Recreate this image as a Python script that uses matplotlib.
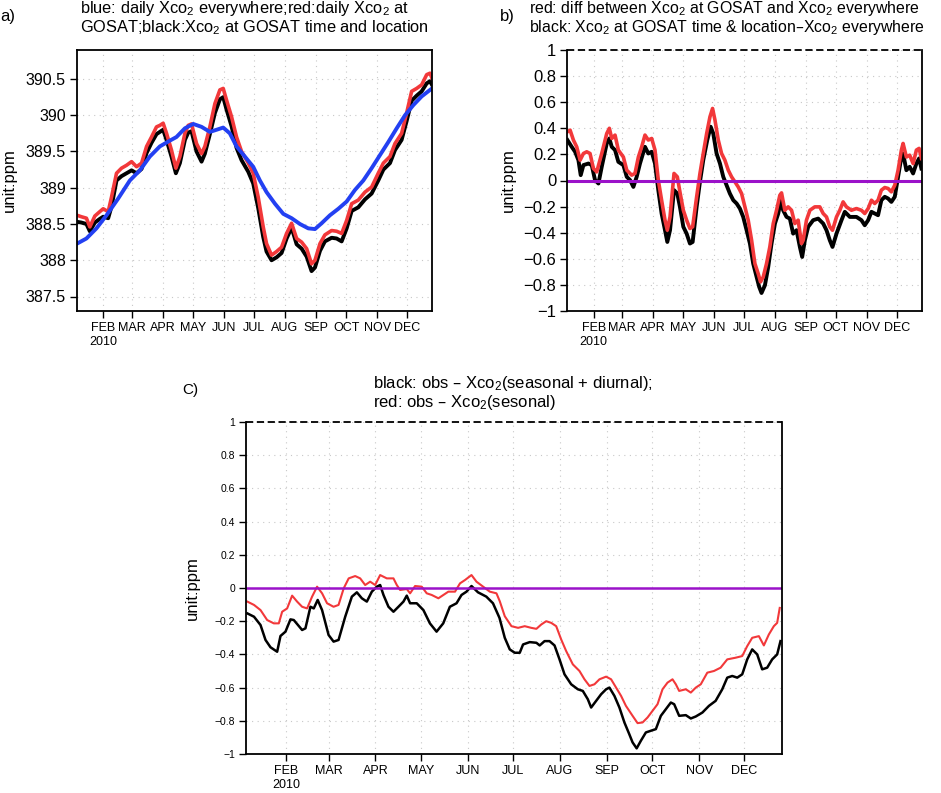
import matplotlib
matplotlib.use("Agg")
import matplotlib.pyplot as plt

plt.rcParams["font.family"] = ["Liberation Sans", "DejaVu Sans"]
plt.rcParams["mathtext.default"] = "regular"

# month starts (day of year, 0 = Jan 1) and labels
month_days = [31, 59, 90, 120, 151, 181, 212, 243, 273, 304, 334]
month_labels = ["FEB\n2010", "MAR", "APR", "MAY", "JUN", "JUL", "AUG", "SEP", "OCT", "NOV", "DEC"]

# ---- panel a: daily Xco2 ----
blue_a_days = [4.7, 14, 24, 34, 45.6, 57.3, 67.3, 77.2, 87.2, 97.2, 103.8, 112.2, 120.5, 128.8, 137.1,
               143.8, 150.4, 157, 163.7, 172, 180.3, 187, 193.6, 202, 210.3, 218.6, 226.9, 235.2,
               241.9, 248.5, 256.8, 265.2, 273.5, 281.8, 290.1, 298.4, 306.7, 315, 323.4, 331.7,
               340, 348.3, 358.6]
blue_a = [388.23, 388.30, 388.44, 388.62, 388.85, 389.10, 389.24, 389.43, 389.57, 389.65, 389.70,
          389.82, 389.88, 389.84, 389.77, 389.80, 389.83, 389.75, 389.57, 389.43, 389.29, 389.10,
          388.94, 388.78, 388.64, 388.58, 388.50, 388.44, 388.43, 388.51, 388.62, 388.71, 388.81,
          388.97, 389.10, 389.27, 389.45, 389.63, 389.82, 390.00, 390.14, 390.26, 390.37]

ab_days = [4.7, 9, 14, 17.4, 22.4, 27.3, 30.7, 35.7, 39, 44, 49, 54, 59, 64, 69, 74, 78.9, 83.9,
           87.2, 90.5, 93.9, 98.8, 103.2, 107.2, 112.2, 115.5, 118.8, 123.8, 128.8, 132.1, 137.1,
           142.1, 147.1, 150.4, 153.7, 158.7, 163.7, 168.7, 175.4, 180.3, 185.3, 190.3, 193.6,
           198.6, 203.6, 208.6, 213.6, 218.6, 223.6, 228.6, 233.6, 238.5, 241.9, 246.9, 251.8,
           258.5, 263.5, 268.5, 273.5, 278.5, 285.1, 291.8, 298.4, 305, 310.1, 316.7, 321.7,
           328.3, 333.3, 338.3, 343.3, 348.3, 353.3, 356.6, 358.6]
red_a = [388.62, 388.60, 388.58, 388.46, 388.61, 388.67, 388.71, 388.67, 388.87, 389.20, 389.27,
         389.31, 389.36, 389.29, 389.34, 389.57, 389.70, 389.84, 389.86, 389.89, 389.75, 389.52,
         389.27, 389.43, 389.75, 389.86, 389.88, 389.61, 389.47, 389.57, 389.84, 390.16, 390.35,
         390.37, 390.21, 389.98, 389.70, 389.50, 389.34, 389.20, 388.87, 388.46, 388.23, 388.07,
         388.12, 388.18, 388.37, 388.51, 388.30, 388.25, 388.16, 387.95, 388.00, 388.23, 388.35,
         388.41, 388.40, 388.37, 388.55, 388.78, 388.83, 388.94, 389.01, 389.20, 389.34, 389.43,
         389.61, 389.75, 390.03, 390.33, 390.37, 390.42, 390.56, 390.58, 390.51]
black_a = [388.53, 388.52, 388.50, 388.40, 388.52, 388.57, 388.60, 388.58, 388.74, 389.10, 389.16,
           389.20, 389.24, 389.20, 389.26, 389.48, 389.62, 389.74, 389.77, 389.80, 389.66, 389.43,
           389.20, 389.34, 389.66, 389.76, 389.78, 389.50, 389.36, 389.47, 389.74, 390.03, 390.22,
           390.25, 390.08, 389.85, 389.55, 389.38, 389.22, 389.06, 388.72, 388.32, 388.12, 388.00,
           388.04, 388.10, 388.30, 388.45, 388.22, 388.16, 388.05, 387.85, 387.90, 388.13, 388.26,
           388.31, 388.30, 388.26, 388.44, 388.68, 388.73, 388.84, 388.92, 389.10, 389.25, 389.34,
           389.52, 389.66, 389.92, 390.20, 390.27, 390.33, 390.44, 390.47, 390.42]

# ---- panel b: differences ----
red_b_days = [4.7, 7.4, 10.7, 14, 17.4, 20.7, 24, 27.3, 30.7, 34, 39, 44, 46.6, 49, 52.3, 55.6,
              60.6, 64, 68.9, 72.2, 75.6, 78.9, 82.2, 85.5, 88.9, 92.2, 95.5, 98.8, 102.2, 104.5,
              107.2, 111.2, 114.5, 117.1, 120.5, 123.8, 127.1, 129.8, 133.8, 137.1, 140.4, 143.8,
              147.1, 149.7, 152.1, 155.4, 158.7, 162, 165.4, 168.7, 172, 175.3, 178.7, 182, 185.3,
              188.7, 192, 195.3, 197.6, 200.3, 203.6, 206.9, 210.3, 213.6, 216.9, 218.6, 221.9,
              225.2, 228.6, 231.9, 235.2, 238.5, 240.2, 243.5, 246.9, 251.8, 256.8, 260.2, 263.5,
              266.8, 269.5, 273.5, 276.8, 280.1, 283.4, 288.4, 293.4, 298.4, 301.7, 305.1, 308.4,
              311.7, 315, 318.3, 321.7, 325, 328.3, 331.7, 335, 338.3, 340, 343.3, 346.6, 350,
              353.3, 356, 358.3]
red_b = [0.373, 0.386, 0.31, 0.258, 0.156, 0.207, 0.22, 0.207, 0.092, 0.066, 0.207, 0.36, 0.40,
         0.322, 0.348, 0.233, 0.18, 0.079, 0.041, 0.054, 0.18, 0.258, 0.348, 0.31, 0.322, 0.233,
         0.003, -0.151, -0.304, -0.381, -0.279, 0.054, 0.028, -0.087, -0.228, -0.304, -0.368,
         -0.355, -0.125, 0.054, 0.207, 0.36, 0.488, 0.552, 0.463, 0.31, 0.207, 0.156, 0.079,
         0.028, -0.01, -0.049, -0.10, -0.202, -0.304, -0.458, -0.637, -0.714, -0.777, -0.739,
         -0.637, -0.509, -0.33, -0.228, -0.113, -0.095, -0.228, -0.202, -0.228, -0.33, -0.304,
         -0.483, -0.458, -0.304, -0.228, -0.202, -0.202, -0.253, -0.279, -0.355, -0.381, -0.279,
         -0.228, -0.164, -0.202, -0.228, -0.215, -0.228, -0.253, -0.215, -0.151, -0.176, -0.151,
         -0.074, -0.054, -0.061, -0.087, -0.036, 0.079, 0.233, 0.284, 0.18, 0.194, 0.13, 0.233,
         0.246, 0.169]

black_b_days = [4.7, 9, 12.4, 15.7, 18, 20.7, 25.7, 29, 32.3, 35.7, 39, 44, 46.6, 49, 52.3, 55.6,
                60.6, 64, 67.3, 70.6, 73.9, 77.2, 82.2, 85.5, 88.9, 92.2, 95.5, 98.8, 102.2, 104.5,
                107.2, 111.2, 114.5, 117.1, 120.5, 123.8, 127.1, 129.8, 133.8, 137.1, 140.4,
                144.4, 147.8, 150.4, 153.7, 157.1, 160.4, 163.7, 167, 170.4, 173.7, 177, 180.3,
                183.7, 187, 190.3, 193.7, 196.3, 198.6, 202, 205.3, 208.6, 212, 215.3, 217.9,
                220.2, 223.6, 226.9, 230.2, 233.6, 236.9, 239.2, 241.9, 245.2, 250.2, 255.2,
                260.2, 263.5, 266.8, 269.5, 273.5, 278.5, 281.8, 286.8, 293.4, 298.4, 301.7,
                305.1, 308.4, 311.7, 315, 318.3, 321.7, 325, 328.3, 331.7, 335, 338.3, 340, 343.3,
                346.6, 350, 353.3, 356, 358.3]
black_b = [0.31, 0.258, 0.22, 0.156, 0.041, 0.118, 0.13, 0.118, 0.003, -0.023, 0.105, 0.284,
           0.322, 0.258, 0.233, 0.143, 0.118, 0.028, 0.003, -0.049, 0.028, 0.13, 0.258, 0.207,
           0.22, 0.13, -0.074, -0.253, -0.381, -0.471, -0.381, -0.074, -0.10, -0.202, -0.355,
           -0.407, -0.483, -0.471, -0.202, -0.01, 0.156, 0.31, 0.412, 0.36, 0.207, 0.13, 0.028,
           -0.036, -0.10, -0.151, -0.176, -0.215, -0.279, -0.381, -0.483, -0.637, -0.739, -0.816,
           -0.862, -0.803, -0.662, -0.483, -0.33, -0.253, -0.151, -0.228, -0.279, -0.292, -0.407,
           -0.381, -0.509, -0.586, -0.458, -0.355, -0.304, -0.292, -0.33, -0.381, -0.458, -0.509,
           -0.407, -0.304, -0.24, -0.279, -0.279, -0.304, -0.343, -0.304, -0.24, -0.253, -0.266,
           -0.151, -0.125, -0.138, -0.164, -0.125, 0.028, 0.18, 0.207, 0.079, 0.105, 0.054, 0.13,
           0.169, 0.092]

# ---- panel c: obs minus model ----
black_c_days = [5.3, 9.7, 14, 17.3, 20.6, 25, 27.2, 30.5, 33.8, 36, 41.5, 43.7, 47, 49.2, 51.8,
                54.7, 59, 62.3, 65.6, 70, 74.4, 77.7, 81, 84.3, 87.6, 90.9, 93.1, 95.3, 98.6,
                101.9, 105.2, 108.5, 110.7, 112.9, 117.3, 121.7, 126, 130.4, 134.8, 139.2, 143.6,
                146.9, 150.2, 153.5, 157.8, 163.3, 167.7, 172, 175.5, 178.8, 182.1, 185.4, 187.6,
                192, 196.4, 198.6, 201.8, 205.1, 208.4, 211.7, 215, 219.4, 223.8, 227.1, 230.4,
                232.6, 235.9, 239.2, 242.5, 244.7, 248, 251.3, 254.6, 257.8, 260, 262.7, 265.5,
                268.8, 272.1, 275.4, 278.7, 282, 285.3, 287.5, 290.8, 295.2, 298.5, 301.8, 306.2,
                310.5, 314.9, 319.3, 322.6, 325.9, 329.2, 332.5, 335.8, 339.1, 342.4, 345.7, 349,
                352.3, 355.6, 357.8]
black_c = [-0.153, -0.173, -0.223, -0.313, -0.357, -0.384, -0.289, -0.263, -0.189, -0.193,
           -0.253, -0.243, -0.113, -0.123, -0.072, -0.133, -0.283, -0.323, -0.313, -0.173,
           -0.052, -0.026, -0.062, -0.082, -0.022, 0.008, 0.018, -0.042, -0.113, -0.143, -0.113,
           -0.082, -0.046, -0.092, -0.092, -0.133, -0.213, -0.263, -0.213, -0.113, -0.092,
           -0.042, -0.022, 0.012, -0.026, -0.052, -0.092, -0.18, -0.30, -0.37, -0.39, -0.39,
           -0.34, -0.326, -0.33, -0.346, -0.32, -0.32, -0.346, -0.43, -0.52, -0.58, -0.61, -0.62,
           -0.67, -0.72, -0.68, -0.64, -0.61, -0.60, -0.65, -0.72, -0.81, -0.88, -0.93, -0.966,
           -0.92, -0.87, -0.86, -0.85, -0.77, -0.73, -0.69, -0.70, -0.77, -0.766, -0.786, -0.774,
           -0.75, -0.71, -0.68, -0.61, -0.54, -0.53, -0.54, -0.52, -0.43, -0.37, -0.40, -0.49,
           -0.48, -0.43, -0.40, -0.32]

red_c_days = [5.3, 9.7, 14, 18.4, 22.8, 26.1, 28.3, 31.6, 34.9, 38.2, 41.5, 44.8, 48.1, 51.4,
              54.7, 58, 62.3, 65.6, 69, 72.3, 76.6, 79.9, 83.2, 86.5, 89.8, 93.1, 97.5, 101.9,
              104.1, 106.3, 110.7, 112.9, 116.2, 120.6, 123.9, 127.2, 131.6, 134.9, 138.2, 142.6,
              145.9, 149.2, 153.5, 156.8, 161.2, 165.6, 170, 172.2, 175.5, 179.9, 184.3, 188.7,
              193, 196.4, 199.6, 202.9, 206.2, 209.5, 212.8, 216.1, 220.5, 224.9, 228.2, 231.5,
              234.8, 238.1, 242.5, 245.8, 249.1, 252.4, 255.6, 260, 263.3, 266.6, 269.9, 273.2,
              276.5, 279.8, 283.1, 286.4, 288.6, 290.8, 295.2, 298.5, 301.8, 305.1, 309.4, 313.8,
              318.2, 322.6, 328.1, 332.5, 335.8, 339.1, 343.5, 346.8, 350.1, 353.4, 355.6, 357.3]
red_c = [-0.082, -0.102, -0.133, -0.193, -0.213, -0.213, -0.143, -0.123, -0.046, -0.082, -0.113,
         -0.123, -0.052, 0.008, -0.032, -0.092, -0.113, -0.102, -0.002, 0.058, 0.072, 0.058,
         0.018, 0.038, 0.018, 0.078, 0.058, 0.058, 0.018, -0.012, -0.006, -0.032, 0.012, 0.008,
         -0.032, -0.042, -0.062, -0.042, -0.022, -0.022, 0.028, 0.048, 0.078, 0.038, 0.008,
         -0.022, -0.032, -0.08, -0.17, -0.23, -0.24, -0.23, -0.24, -0.246, -0.22, -0.20, -0.21,
         -0.23, -0.31, -0.38, -0.46, -0.50, -0.55, -0.59, -0.58, -0.55, -0.534, -0.55, -0.60,
         -0.65, -0.71, -0.77, -0.814, -0.81, -0.78, -0.74, -0.70, -0.61, -0.57, -0.55, -0.58,
         -0.62, -0.61, -0.63, -0.60, -0.58, -0.51, -0.50, -0.48, -0.43, -0.42, -0.41, -0.35,
         -0.30, -0.29, -0.346, -0.28, -0.23, -0.21, -0.12]

titles_a = ["blue: daily Xco$_2$ everywhere;red:daily Xco$_2$ at",
            "GOSAT;black:Xco$_2$ at GOSAT time and location"]
titles_b = ["red: diff between Xco$_2$ at GOSAT and Xco$_2$ everywhere",
            "black: Xco$_2$ at GOSAT time & location\u2013Xco$_2$ everywhere"]
titles_c = ["black: obs \u2013 Xco$_2$(seasonal + diurnal);",
            "red: obs \u2013 Xco$_2$(sesonal)"]

RED = "#f2383a"
BLUE = "#2340f2"
PURPLE = "#9b12c9"
XLIM = (4.6, 358.6)
W, H = 941.0, 793.0


def fx(px):
    return px / W


def fy(py):
    return 1 - py / H


def style_axes(ax, yticks, ylim, tick_fs, month_fs, dashed_top=False):
    ax.set_xlim(*XLIM)
    ax.set_ylim(*ylim)
    ax.set_xticks(month_days)
    ax.set_xticklabels(month_labels, fontsize=month_fs, linespacing=1.25)
    ax.set_yticks(yticks)
    ax.set_yticklabels(["{:g}".format(v).replace("-", "\u2212") for v in yticks], fontsize=tick_fs)
    ax.tick_params(direction="out", length=5, width=1, top=False, right=False, pad=3)
    ax.grid(True, color="#c8c8c8", linestyle=(0, (1, 4)), linewidth=0.8)
    for s in ax.spines.values():
        s.set_linewidth(1.3)
    if dashed_top:
        ax.spines["top"].set_visible(False)
        ax.axhline(ylim[1], color="black", linestyle=(0, (4, 2)), linewidth=1.3, clip_on=False)


def two_lines(x, y1, lines, fs):
    fig.text(fx(x), fy(y1), lines[0], fontsize=fs, ha="left", va="baseline")
    fig.text(fx(x), fy(y1 + 19.5), lines[1], fontsize=fs, ha="left", va="baseline")


fig = plt.figure(figsize=(9.41, 7.93), dpi=100)

# panel a
ax1 = fig.add_axes([fx(77), fy(311), fx(355), 261 / H])
ax1.plot(ab_days, black_a, color="black", lw=2.8)
ax1.plot(ab_days, red_a, color=RED, lw=2.6)
ax1.plot(blue_a_days, blue_a, color=BLUE, lw=2.8)
style_axes(ax1, [387.5, 388, 388.5, 389, 389.5, 390, 390.5], (387.3, 390.9), 11.5, 9)
fig.text(fx(9), fy(180), "unit:ppm", fontsize=12, rotation=90, ha="center", va="center")
two_lines(80, 12.5, titles_a, 11.8)
fig.text(0.0, fy(17), "a)", fontsize=12, ha="left", va="center")

# panel b
ax2 = fig.add_axes([fx(567.3), fy(311), fx(354.4), 261 / H])
ax2.plot(black_b_days, black_b, color="black", lw=2.8)
ax2.plot(red_b_days, red_b, color=RED, lw=2.6)
ax2.axhline(0, color=PURPLE, lw=2.2)
style_axes(ax2, [-1, -0.8, -0.6, -0.4, -0.2, 0, 0.2, 0.4, 0.6, 0.8, 1], (-1, 1), 12, 9,
           dashed_top=True)
fig.text(fx(508), fy(180), "unit:ppm", fontsize=12, rotation=90, ha="center", va="center")
two_lines(529, 12.5, titles_b, 11.4)
fig.text(fx(500), fy(17), "b)", fontsize=12, ha="left", va="center")

# panel c
ax3 = fig.add_axes([fx(246.3), fy(754), fx(535.4), 332 / H])
ax3.plot(black_c_days, black_c, color="black", lw=1.8)
ax3.plot(red_c_days, red_c, color=RED, lw=1.5)
ax3.axhline(0, color=PURPLE, lw=1.8)
style_axes(ax3, [-1, -0.8, -0.6, -0.4, -0.2, 0, 0.2, 0.4, 0.6, 0.8, 1], (-1, 1), 7.5, 9,
           dashed_top=True)
fig.text(fx(192), fy(588.5), "unit:ppm", fontsize=12, rotation=90, ha="center", va="center")
two_lines(373, 388, titles_c, 12)
fig.text(fx(182.7), fy(390), "C)", fontsize=11, ha="left", va="center")

fig.savefig("out.png", dpi=100)
